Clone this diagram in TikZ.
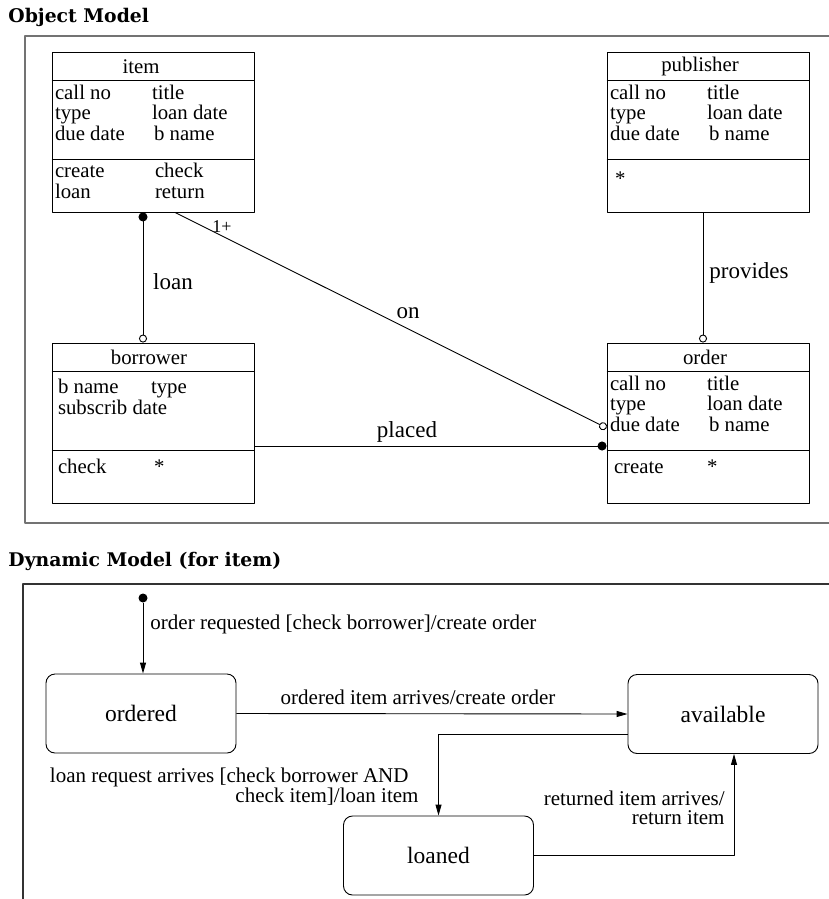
\documentclass[tikz,border=0pt]{standalone}
\usepackage{fontspec}
\setmainfont{Liberation Serif}
\newfontfamily\headfont{DejaVu Serif}
\usetikzlibrary{arrows.meta,calc,positioning}
\begin{document}
\begin{tikzpicture}[x=1pt,y=-1pt,line join=round,line width=0.9pt,font=\fontsize{20.8}{20}\selectfont,
	classbox/.style={draw,minimum width=202pt,minimum height=160pt,inner sep=0pt},
	attr/.style={anchor=mid west,inner sep=0pt},
	state/.style={draw,rounded corners=9pt,minimum width=190pt,minimum height=79pt,font=\fontsize{23.5}{22}\selectfont},
	frame/.style={draw=black!55,line width=1.4pt},
	heading/.style={anchor=west,inner sep=0pt,font=\fontsize{18.8}{22}\headfont\bfseries},
	assoc/.style={font=\fontsize{23}{22}\selectfont},
	lbl/.style={inner sep=0pt,font=\fontsize{21}{16}\selectfont},
	dot/.style={circle,fill,inner sep=0pt,minimum size=9pt},
	tr/.style={-{Triangle[length=11pt,width=6pt]}}]
	\useasboundingbox (0,0) rectangle (829,899);
	\clip (0,0) rectangle (829,899);
	\node[heading] (omtitle) at (8,17) {Object Model};
	\node[heading] (dmtitle) at (8,561) {Dynamic Model (for item)};
	\draw[frame] (25,36) rectangle (845,523);
	\draw[frame,draw=black!80] (23,910) |- (845,584);
	\node[classbox] (item) at (153,132) {};
	\node[classbox] (publisher) at (708,132) {};
	\node[classbox] (borrower) at (153,423) {};
	\node[classbox] (order) at (708,423) {};
	\foreach \c/\dx/\t in {item/-12/item,publisher/-8/publisher,borrower/-4/borrower,order/-3/order}{
		\draw ($(\c.north west)+(0,29)$) -- ($(\c.north east)+(0,29)$)
		($(\c.north west)+(0,108)$) -- ($(\c.north east)+(0,108)$);
		\node (\c-name) at ($(\c.north)+(\dx,15)$) {\t};
	}
	\foreach \c in {item,publisher,order}
		\foreach \dx/\dy/\t in {3/46/call no,100/46/title,3/66/type,100/66/loan date,3/87/due date,102/87/b name}
			\node[attr] at ($(\c.north west)+(\dx,\dy)$) {\t};
	\foreach \c/\dx/\dy/\t in {item/3/124/create,item/103/124/check,item/3/145/loan,item/103/145/return,
		publisher/8/132/*,
		borrower/6/49/b name,borrower/99/49/type,borrower/6/70/subscrib date,borrower/6/129/check,borrower/102/129/*,
		order/7/129/create,order/100/129/*}
		\node[attr] at ($(\c.north west)+(\dx,\dy)$) {\t};
	\draw[{Circle[length=9pt]}-{Circle[open,length=8pt]}] ($(item.south)+(-10,0)$) -- ($(borrower.north)+(-10,0)$);
	\draw[-{Circle[open,length=8pt]}] ($(item.south)+(22,0)$) -- ($(order.west)+(0,5)$);
	\draw[-{Circle[length=9pt]}] ($(borrower.east)+(0,23)$) -- ($(order.west)+(0,23)$);
	\draw[-{Circle[open,length=8pt]}] ($(publisher.south)+(-5,0)$) -- ($(order.north)+(-5,0)$);
	\node[assoc] (loanlbl) at (173,282) {loan};
	\node[assoc] (onlbl) at (408,313) {on};
	\node[assoc] (provlbl) at (749,273) {provides};
	\node[assoc] (placedlbl) at (407,432) {placed};
	\node[font=\fontsize{18}{18}\selectfont] (mult) at (222,227) {1+};
	\node[dot] (init) at (143,598) {};
	\node[state] (ordered) at (141,713.5) {ordered};
	\node[state] (available) at (723,714) {available};
	\node[state] (loaned) at (438.5,855.5) {loaned};
	\draw[tr] (init) -- (init |- ordered.north);
	\draw[tr] (ordered.east) -- (available.west);
	\draw[tr] ($(available.west)+(0,20)$) -| (loaned.north);
	\draw[tr] (loaned.east) -| ($(available.south)+(11,0)$);
	\node[lbl,anchor=mid west] (reqlbl) at (150,627) {order requested [check borrower]/create order};
	\node[lbl] (arrlbl) at (418,697) {ordered item arrives/create order};
	\node[lbl,align=right,anchor=north east] (loanreq) at (419,767) {loan request arrives [check borrower AND\hspace*{10pt}\\check item]/loan item};
	\node[lbl,align=right,anchor=north east,font=\fontsize{21}{19}\selectfont] (retlbl) at (725,790) {returned item arrives/\\return item};
\end{tikzpicture}
\end{document}
